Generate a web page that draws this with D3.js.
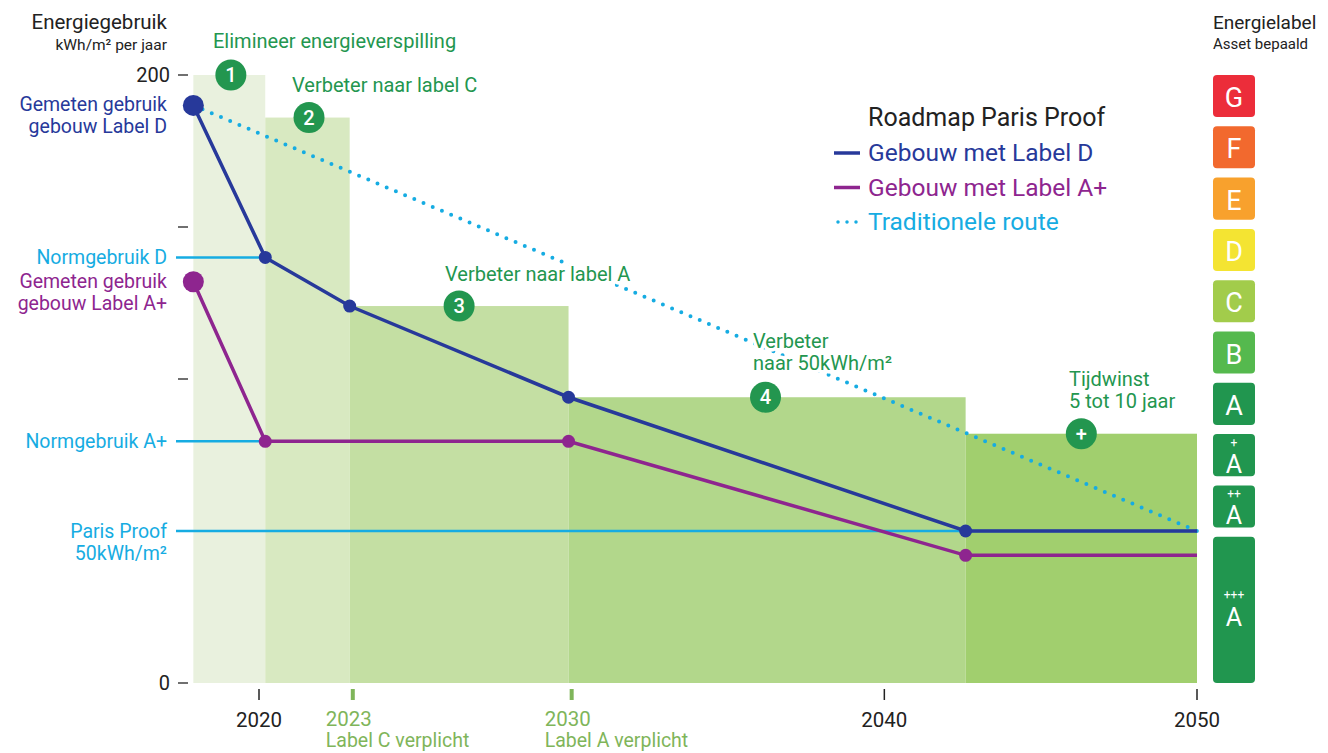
<!DOCTYPE html>
<html>
<head>
<meta charset="utf-8">
<script src="https://cdn.jsdelivr.net/npm/d3@7"></script>
<style>
  body { margin: 0; background: #fff; }
  text { font-family: Roboto, "Noto Sans", sans-serif; }
</style>
</head>
<body>
<svg id="chart" width="1328" height="753"></svg>
<script>
// data (kWh/m2 per year)
var yTicks = [0, 50, 100, 150, 200];
var yTickLabels = {0: "0", 200: "200"};
var xTicks = [2020, 2040, 2050];
var xTicksGreen = [2023, 2030];

var bandStarts = [2017.9, 2020.2, 2022.9, 2029.9, 2042.6];
var bandEnds   = [2020.2, 2022.9, 2029.9, 2042.6, 2050];
var bandTops   = [200, 186, 124, 94, 82];
var bandColors = ["#e9f1de", "#d8e9c1", "#c4dfa3", "#b2d78b", "#a1cf6e"];

var stepNames  = ["1", "2", "3", "4", "+"];
var stepYears  = [2019.1, 2021.6, 2026.4, 2036.2, 2046.3];

var labelDYears  = [2017.9, 2020.2, 2022.9, 2029.9, 2042.6, 2050];
var labelDValues = [190, 140, 124, 94, 50, 50];
var labelAYears  = [2017.9, 2020.2, 2029.9, 2042.6, 2050];
var labelAValues = [132, 79.5, 79.5, 42, 42];
var tradYears  = [2017.9, 2050];
var tradValues = [190, 50];

var energyLabels = ["G", "F", "E", "D", "C", "B", "A", "A+", "A++", "A+++"];
var energyColors = ["#ec2d3a", "#f2692e", "#f8a12d", "#f4e432", "#a2cc4b", "#55b94e", "#21964f", "#21964f", "#21964f", "#21964f"];

var blue = "#27399a", purple = "#8e258f", cyan = "#16ace2", green = "#23964f", lime = "#7fb55a";

var svg = d3.select("#chart");
var x = d3.scaleLinear().domain([2020, 2050]).range([259, 1197]);
var y = d3.scaleLinear().domain([0, 200]).range([683, 75]);

// green bands
svg.selectAll("rect.band").data(bandTops).enter().append("rect")
    .attr("class", "band")
    .attr("x", function (d, i) { return x(bandStarts[i]); })
    .attr("width", function (d, i) { return x(bandEnds[i]) - x(bandStarts[i]); })
    .attr("y", function (d) { return y(d); })
    .attr("height", function (d) { return y(0) - y(d); })
    .attr("fill", function (d, i) { return bandColors[i]; });

// y axis ticks, left side
svg.selectAll("line.ytick").data(yTicks).enter().append("line")
    .attr("x1", 178).attr("x2", 188)
    .attr("y1", function (d) { return y(d); }).attr("y2", function (d) { return y(d); })
    .attr("stroke", "#222").attr("stroke-width", 1.3);
svg.selectAll("text.ylab").data(yTicks.filter(function (d) { return yTickLabels[d]; })).enter().append("text")
    .attr("x", 170).attr("y", function (d) { return y(d) + 7; })
    .attr("text-anchor", "end").attr("font-size", 20).attr("fill", "#222")
    .text(function (d) { return yTickLabels[d]; });

svg.append("text").attr("x", 167).attr("y", 29).attr("text-anchor", "end")
    .attr("font-size", 20.5).attr("fill", "#222").text("Energiegebruik");
svg.append("text").attr("x", 167).attr("y", 50).attr("text-anchor", "end")
    .attr("font-size", 15.5).attr("fill", "#222").text("kWh/m² per jaar");

// reference lines (norm values)
var refLines = [
    {v: 140, x2: labelDYears[1], txt: ["Normgebruik D"]},
    {v: 79.5, x2: labelAYears[1], txt: ["Normgebruik A+"]},
    {v: 50, x2: 2050, txt: ["Paris Proof", "50kWh/m²"]}
];
refLines.forEach(function (r) {
    svg.append("line").attr("x1", 176).attr("x2", x(r.x2))
        .attr("y1", y(r.v)).attr("y2", y(r.v))
        .attr("stroke", cyan).attr("stroke-width", 2.5);
    r.txt.forEach(function (t, k) {
        svg.append("text").attr("x", 167).attr("y", y(r.v) + 7 + k * 22)
            .attr("text-anchor", "end").attr("font-size", 19.5).attr("fill", cyan).text(t);
    });
});

// measured usage labels
[["Gemeten gebruik", "gebouw Label D", labelDValues[0], blue],
 ["Gemeten gebruik", "gebouw Label A+", labelAValues[0], purple]].forEach(function (g) {
    svg.append("text").attr("x", 167).attr("y", y(g[2]) + 6).attr("text-anchor", "end")
        .attr("font-size", 19.5).attr("fill", g[3]).text(g[0]);
    svg.append("text").attr("x", 167).attr("y", y(g[2]) + 28).attr("text-anchor", "end")
        .attr("font-size", 19.5).attr("fill", g[3]).text(g[1]);
});

// traditional route (dotted)
var line = d3.line().x(function (d) { return x(d[0]); }).y(function (d) { return y(d[1]); });
svg.append("path").datum(d3.zip(tradYears, tradValues))
    .attr("d", line).attr("fill", "none").attr("stroke", cyan)
    .attr("stroke-width", 4).attr("stroke-linecap", "round").attr("stroke-dasharray", "0 10");

// series lines
[[labelAYears, labelAValues, purple], [labelDYears, labelDValues, blue]].forEach(function (s) {
    var pts = d3.zip(s[0], s[1]);
    svg.append("path").datum(pts).attr("d", line)
        .attr("fill", "none").attr("stroke", s[2]).attr("stroke-width", 3.5);
    svg.selectAll(null).data(pts.slice(0, pts.length - 1)).enter().append("circle")
        .attr("cx", function (d) { return x(d[0]); })
        .attr("cy", function (d) { return y(d[1]); })
        .attr("r", function (d, i) { return i === 0 ? 10.5 : 6.5; })
        .attr("fill", s[2]);
});

// annotations with white halo so the dotted line breaks behind them
var notes = [
    {x: 213, y: 48, lines: ["Elimineer energieverspilling"]},
    {x: 292, y: 92, lines: ["Verbeter naar label C"]},
    {x: 445, y: 281, lines: ["Verbeter naar label A"]},
    {x: 753, y: 348, lines: ["Verbeter", "naar 50kWh/m²"]},
    {x: 1069, y: 386, lines: ["Tijdwinst", "5 tot 10 jaar"]}
];
notes.forEach(function (n) {
    n.lines.forEach(function (t, k) {
        svg.append("text").attr("x", n.x).attr("y", n.y + k * 22)
            .attr("font-size", 20).attr("fill", green)
            .attr("stroke", "#fff").attr("stroke-width", 7).attr("stroke-linejoin", "round")
            .attr("paint-order", "stroke").text(t);
    });
});

// numbered step circles
var steps = svg.selectAll("g.step").data(stepNames).enter().append("g")
    .attr("transform", function (d, i) { return "translate(" + x(stepYears[i]) + "," + y(bandTops[i]) + ")"; });
steps.append("circle").attr("r", 15.5).attr("fill", green);
steps.append("text").attr("y", 7).attr("text-anchor", "middle").attr("font-size", 20)
    .attr("font-weight", 500).attr("fill", "#fff").text(function (d) { return d; });

// x axis
svg.selectAll("line.xt").data(xTicks).enter().append("line")
    .attr("x1", function (d) { return x(d); }).attr("x2", function (d) { return x(d); })
    .attr("y1", 689).attr("y2", 700).attr("stroke", "#222").attr("stroke-width", 1.5);
svg.selectAll("text.xt").data(xTicks).enter().append("text")
    .attr("x", function (d) { return x(d); }).attr("y", 727)
    .attr("text-anchor", "middle").attr("font-size", 20.5).attr("fill", "#222")
    .text(function (d) { return d; });
svg.selectAll("line.xg").data(xTicksGreen).enter().append("line")
    .attr("x1", function (d) { return x(d); }).attr("x2", function (d) { return x(d); })
    .attr("y1", 689).attr("y2", 700).attr("stroke", lime).attr("stroke-width", 4);
var greenSub = {2023: "Label C verplicht", 2030: "Label A verplicht"};
xTicksGreen.forEach(function (d) {
    svg.append("text").attr("x", x(d) - 27).attr("y", 726).attr("font-size", 20.5)
        .attr("fill", lime).text(d);
    svg.append("text").attr("x", x(d) - 27).attr("y", 747).attr("font-size", 19.5)
        .attr("fill", lime).text(greenSub[d]);
});

// legend
svg.append("text").attr("x", 868).attr("y", 126).attr("font-size", 25).attr("fill", "#222")
    .text("Roadmap Paris Proof");
var legend = [
    {txt: "Gebouw met Label D", c: blue, dash: null},
    {txt: "Gebouw met Label A+", c: purple, dash: null},
    {txt: "Traditionele route", c: cyan, dash: "0 9"}
];
legend.forEach(function (l, i) {
    var ly = 153 + i * 34.5;
    svg.append("line").attr("x1", l.dash ? 838 : 834).attr("x2", 860).attr("y1", ly).attr("y2", ly)
        .attr("stroke", l.c).attr("stroke-width", 3.5)
        .attr("stroke-linecap", l.dash ? "round" : "butt")
        .attr("stroke-dasharray", l.dash);
    svg.append("text").attr("x", 868).attr("y", ly + 8).attr("font-size", 24.5).attr("fill", l.c).text(l.txt);
});

// energy label column
svg.append("text").attr("x", 1213).attr("y", 29).attr("font-size", 19).attr("fill", "#222").text("Energielabel");
svg.append("text").attr("x", 1213).attr("y", 49).attr("font-size", 15).attr("fill", "#222").text("Asset bepaald");

var band = d3.scaleBand().domain(energyLabels).range([75, 578.8]).paddingInner(0.18);
var boxes = svg.selectAll("g.elab").data(energyLabels).enter().append("g")
    .attr("transform", function (d) { return "translate(1213," + band(d) + ")"; });
boxes.append("rect").attr("width", 42)
    .attr("height", function (d, i) { return i === energyLabels.length - 1 ? y(0) - band(d) : band.bandwidth(); })
    .attr("rx", 4).attr("fill", function (d, i) { return energyColors[i]; });
boxes.each(function (d, i) {
    var g = d3.select(this);
    var last = i === energyLabels.length - 1;
    if (d.length > 1) {
        // plus signs sit above the letter
        var base = last ? 89 : 39;
        g.append("text").attr("x", 21).attr("y", base - 26.5).attr("text-anchor", "middle")
            .attr("font-size", 12).attr("fill", "#fff").text(d.slice(1));
        g.append("text").attr("x", 21).attr("y", base).attr("text-anchor", "middle")
            .attr("font-size", 25).attr("fill", "#fff").text(d.charAt(0));
    } else {
        g.append("text").attr("x", 21).attr("y", 32).attr("text-anchor", "middle")
            .attr("font-size", 27).attr("fill", "#fff").text(d);
    }
});
</script>
</body>
</html>
